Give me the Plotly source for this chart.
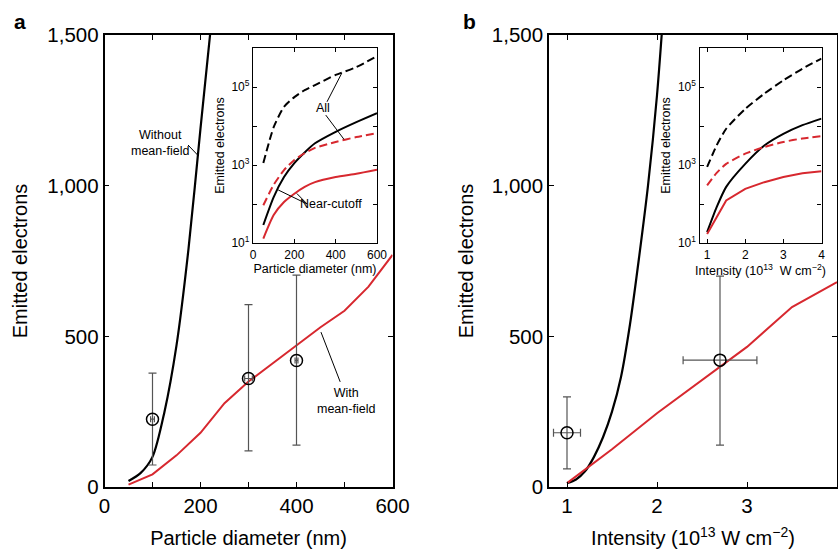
import plotly.graph_objects as go

# ---------------- data ----------------
# Panel a main (near-cutoff)
diam_nomf = [50, 75, 100, 125, 150, 175, 200, 225]
emit_nomf_a = [20, 46, 100, 250, 470, 790, 1190, 1580]
diam_mf = [50, 100, 150, 200, 250, 300, 350, 400, 450, 500, 550, 600]
emit_mf_a = [8, 42, 105, 180, 278, 350, 410, 470, 530, 585, 665, 770]
exp_diam = [100, 300, 400]
exp_emit_a = [225, 360, 420]
exp_emit_a_hi = [378, 605, 703]
exp_emit_a_lo = [73, 120, 139]
exp_diam_err = [4, 8, 3]

# Panel b main (near-cutoff)
int_nomf = [1.0, 1.1, 1.2, 1.3, 1.4, 1.5, 1.6, 1.7, 1.8, 1.9, 2.0, 2.1]
emit_nomf_b = [13, 25, 52, 100, 165, 250, 365, 540, 760, 1000, 1300, 1700]
int_mf = [1.0, 1.5, 2.0, 2.5, 3.0, 3.5, 4.0]
emit_mf_b = [13, 125, 245, 355, 465, 597, 680]
exp_int = [1.0, 2.7]
exp_int_err = [0.15, 0.41]
exp_emit_b = [180, 421]
exp_emit_b_hi = [299, 700]
exp_emit_b_lo = [60, 139]

# Inset a (log scale)
ins_diam = [50, 100, 150, 200, 250, 300, 400, 500, 600]
ins_a_all_nomf = [1120, 9300, 31000, 55000, 83000, 112000, 204000, 324000, 617000]
ins_a_near_nomf = [29, 150, 490, 1120, 2100, 3600, 7100, 12600, 21400]
ins_a_all_mf = [93, 310, 740, 1350, 2000, 2750, 3900, 5200, 6600]
ins_a_near_mf = [13, 52, 112, 183, 275, 363, 490, 600, 760]

# Inset b (log scale)
ins_int = [1.0, 1.25, 1.5, 2.0, 2.5, 3.0, 3.5, 4.0]
ins_b_all_nomf = [890, 3200, 8500, 27500, 67600, 148000, 295000, 537000]
ins_b_near_nomf = [19, 83, 275, 1070, 3160, 6300, 10500, 15500]
ins_b_all_mf = [300, 630, 1070, 1950, 2900, 3900, 4800, 5500]
ins_b_near_mf = [17, 45, 123, 245, 363, 490, 617, 690]

main_yticks = [0, 500, 1000, 1500]
main_yticktext = ["0", "500", "1,000", "1,500"]
diam_ticks = [0, 200, 400, 600]
diam_minor = [100, 300, 500]
int_ticks = [1, 2, 3, 4]
log_ticks = [10, 1000, 100000]
log_ticktext = ["10<sup>1</sup>", "10<sup>3</sup>", "10<sup>5</sup>"]
log_minor = [100, 10000, 1000000]

# ---------------- styling ----------------
W, H = 838, 549
FONT = "Liberation Sans, Arial, Helvetica, sans-serif"
RED = "#d7282f"
BLACK = "#000000"
ERR = "#555555"


def xd(a, b):
    return [a / W, b / W]


def yd(top, bottom):
    return [(H - bottom) / H, (H - top) / H]


fig = go.Figure()

# Panel a main
fig.add_trace(go.Scatter(x=diam_nomf, y=emit_nomf_a, mode="lines", line=dict(color=BLACK, width=2.2, shape="spline", smoothing=0.8),
                         xaxis="x", yaxis="y", showlegend=False))
fig.add_trace(go.Scatter(x=diam_mf, y=emit_mf_a, mode="lines", line=dict(color=RED, width=2),
                         xaxis="x", yaxis="y", showlegend=False))
fig.add_trace(go.Scatter(
    x=exp_diam, y=exp_emit_a, mode="markers",
    marker=dict(symbol="circle-open", size=12, color=BLACK, line=dict(width=1.5, color=BLACK)),
    error_y=dict(type="data", symmetric=False,
                 array=[h - v for h, v in zip(exp_emit_a_hi, exp_emit_a)],
                 arrayminus=[v - l for l, v in zip(exp_emit_a_lo, exp_emit_a)],
                 color=ERR, thickness=1.2, width=4),
    error_x=dict(type="data", array=exp_diam_err, color=ERR, thickness=1.2, width=3),
    xaxis="x", yaxis="y", showlegend=False))

# Panel b main
fig.add_trace(go.Scatter(x=int_nomf, y=emit_nomf_b, mode="lines", line=dict(color=BLACK, width=2.2, shape="spline", smoothing=0.8),
                         xaxis="x2", yaxis="y2", showlegend=False))
fig.add_trace(go.Scatter(x=int_mf, y=emit_mf_b, mode="lines", line=dict(color=RED, width=2),
                         xaxis="x2", yaxis="y2", showlegend=False))
fig.add_trace(go.Scatter(
    x=exp_int, y=exp_emit_b, mode="markers",
    marker=dict(symbol="circle-open", size=12, color=BLACK, line=dict(width=1.5, color=BLACK)),
    error_y=dict(type="data", symmetric=False,
                 array=[h - v for h, v in zip(exp_emit_b_hi, exp_emit_b)],
                 arrayminus=[v - l for l, v in zip(exp_emit_b_lo, exp_emit_b)],
                 color=ERR, thickness=1.2, width=4),
    error_x=dict(type="data", array=exp_int_err, color=ERR, thickness=1.2, width=4),
    xaxis="x2", yaxis="y2", showlegend=False))

# Inset a
DASH = "8px,4px"
SPL = dict(shape="spline", smoothing=0.6)
fig.add_trace(go.Scatter(x=ins_diam, y=ins_a_all_nomf, mode="lines",
                         line=dict(color=BLACK, width=2, dash=DASH, **SPL), xaxis="x3", yaxis="y3", showlegend=False))
fig.add_trace(go.Scatter(x=ins_diam, y=ins_a_near_nomf, mode="lines",
                         line=dict(color=BLACK, width=2, **SPL), xaxis="x3", yaxis="y3", showlegend=False))
fig.add_trace(go.Scatter(x=ins_diam, y=ins_a_all_mf, mode="lines",
                         line=dict(color=RED, width=2, dash=DASH, **SPL), xaxis="x3", yaxis="y3", showlegend=False))
fig.add_trace(go.Scatter(x=ins_diam, y=ins_a_near_mf, mode="lines",
                         line=dict(color=RED, width=2, **SPL), xaxis="x3", yaxis="y3", showlegend=False))

# Inset b
fig.add_trace(go.Scatter(x=ins_int, y=ins_b_all_nomf, mode="lines",
                         line=dict(color=BLACK, width=2, dash=DASH, **SPL), xaxis="x4", yaxis="y4", showlegend=False))
fig.add_trace(go.Scatter(x=ins_int, y=ins_b_near_nomf, mode="lines",
                         line=dict(color=BLACK, width=2, **SPL), xaxis="x4", yaxis="y4", showlegend=False))
fig.add_trace(go.Scatter(x=ins_int, y=ins_b_all_mf, mode="lines",
                         line=dict(color=RED, width=2, dash=DASH, **SPL), xaxis="x4", yaxis="y4", showlegend=False))
fig.add_trace(go.Scatter(x=ins_int, y=ins_b_near_mf, mode="lines",
                         line=dict(color=RED, width=2), xaxis="x4", yaxis="y4", showlegend=False))

common_main = dict(showline=True, linecolor="black", linewidth=1.5, mirror="ticks", ticks="inside",
                   ticklen=5, tickwidth=1.2, tickcolor="black", showgrid=False, zeroline=False,
                   tickfont=dict(family=FONT, size=20.5, color="black"), automargin=False)
common_ins = dict(showline=True, linecolor="black", linewidth=1.3, mirror="ticks", ticks="inside",
                  ticklen=4, tickwidth=1, tickcolor="black", showgrid=False, zeroline=False,
                  tickfont=dict(family=FONT, size=12, color="black"), automargin=False)

title_font = dict(family=FONT, size=20, color="black")
ins_title_font = dict(family=FONT, size=12.5, color="black")


def minor(vals, ln):
    return dict(tickvals=vals, ticks="inside", ticklen=ln, tickwidth=1.1, tickcolor="black", showgrid=False)


fig.update_layout(
    width=W, height=H, margin=dict(l=0, r=0, t=0, b=0),
    paper_bgcolor="white", plot_bgcolor="rgba(0,0,0,0)",
    font=dict(family=FONT, color="black"),
    xaxis=dict(domain=xd(104.5, 392.5), range=[0, 600], tickvals=diam_ticks, minor=minor(diam_minor, 5),
               anchor="y", title=dict(text="Particle diameter (nm)", font=title_font, standoff=19), **common_main),
    yaxis=dict(domain=yd(35, 487), range=[0, 1500], tickvals=main_yticks, ticktext=main_yticktext,
               anchor="x", title=dict(text="Emitted electrons", font=title_font, standoff=14), **common_main),
    xaxis2=dict(domain=xd(549, 837), range=[0.8, 4.0], tickvals=int_ticks,
                anchor="y2", title=dict(text="Intensity (10<sup>13</sup> W cm<sup>−2</sup>)", font=title_font, standoff=19),
                **common_main),
    yaxis2=dict(domain=yd(35, 487), range=[0, 1500], tickvals=main_yticks, ticktext=main_yticktext,
                anchor="x2", title=dict(text="Emitted electrons", font=title_font, standoff=13), **common_main),
    xaxis3=dict(domain=xd(253, 377), range=[0, 600], tickvals=[0, 200, 400, 600], anchor="y3",
                title=dict(text="Particle diameter (nm)", font=ins_title_font, standoff=2), **common_ins),
    yaxis3=dict(domain=yd(48, 243), type="log", range=[1, 6], tickvals=log_ticks, ticktext=log_ticktext,
                minor=minor(log_minor, 4),
                anchor="x3", title=dict(text="Emitted electrons", font=ins_title_font, standoff=4), **common_ins),
    xaxis4=dict(domain=xd(699.5, 821.5), range=[0.8, 4.0], tickvals=int_ticks, anchor="y4",
                title=dict(text="Intensity (10<sup>13</sup>  W cm<sup>−2</sup>)", font=ins_title_font, standoff=2),
                **common_ins),
    yaxis4=dict(domain=yd(48, 243), type="log", range=[1, 6], tickvals=log_ticks, ticktext=log_ticktext,
                minor=minor(log_minor, 4),
                anchor="x4", title=dict(text="Emitted electrons", font=ins_title_font, standoff=4), **common_ins),
)

# white background behind insets
for x0, x1 in [(253, 377), (699.5, 821.5)]:
    fig.add_shape(type="rect", xref="paper", yref="paper", x0=x0 / W, x1=x1 / W,
                  y0=(H - 243) / H, y1=(H - 48) / H, fillcolor="white", line=dict(width=0), layer="below")

ann_font = dict(family=FONT, size=12.5, color="black")
annotations = [
    dict(text="<b>a</b>", x=20 / W, y=(H - 22) / H, xref="paper", yref="paper", showarrow=False,
         xanchor="center", yanchor="middle", font=dict(family=FONT, size=21, color="black")),
    dict(text="<b>b</b>", x=469 / W, y=(H - 22) / H, xref="paper", yref="paper", showarrow=False,
         xanchor="center", yanchor="middle", font=dict(family=FONT, size=21, color="black")),
    dict(text="Without<br>mean-field", x=116, y=1140, xref="x", yref="y", showarrow=False, font=ann_font),
    dict(text="With<br>mean-field", x=503, y=285, xref="x", yref="y", showarrow=False, font=ann_font),
    # annotation y on log axes is given in log10 units
    dict(text="All", x=341, y=4.45, xref="x3", yref="y3", showarrow=False, font=ins_title_font),
    dict(text="Near-cutoff", x=375, y=2.0, xref="x3", yref="y3", showarrow=False, font=ins_title_font),
]
fig.update_layout(annotations=annotations)

# pointer lines
pointers = [
    ("x", "y", 174, 1135, 195, 1100),
    ("x", "y", 451, 514, 491, 349),
    ("x3", "y3", 358, 10 ** 4.62, 430, 10 ** 5.36),
    ("x3", "y3", 352, 10 ** 4.28, 440, 10 ** 3.66),
    ("x3", "y3", 262, 10 ** 2.0, 122, 10 ** 2.36),
    ("x3", "y3", 262, 10 ** 2.0, 212, 10 ** 2.27),
]
for xr, yr, x0, y0, x1, y1 in pointers:
    fig.add_shape(type="line", xref=xr, yref=yr, x0=x0, y0=y0, x1=x1, y1=y1,
                  line=dict(color="black", width=1))

fig.write_html("out.html", config={"displayModeBar": False},
               post_script="document.body.style.margin='0';document.body.style.padding='0';"
                           "document.body.style.overflow='hidden';")
